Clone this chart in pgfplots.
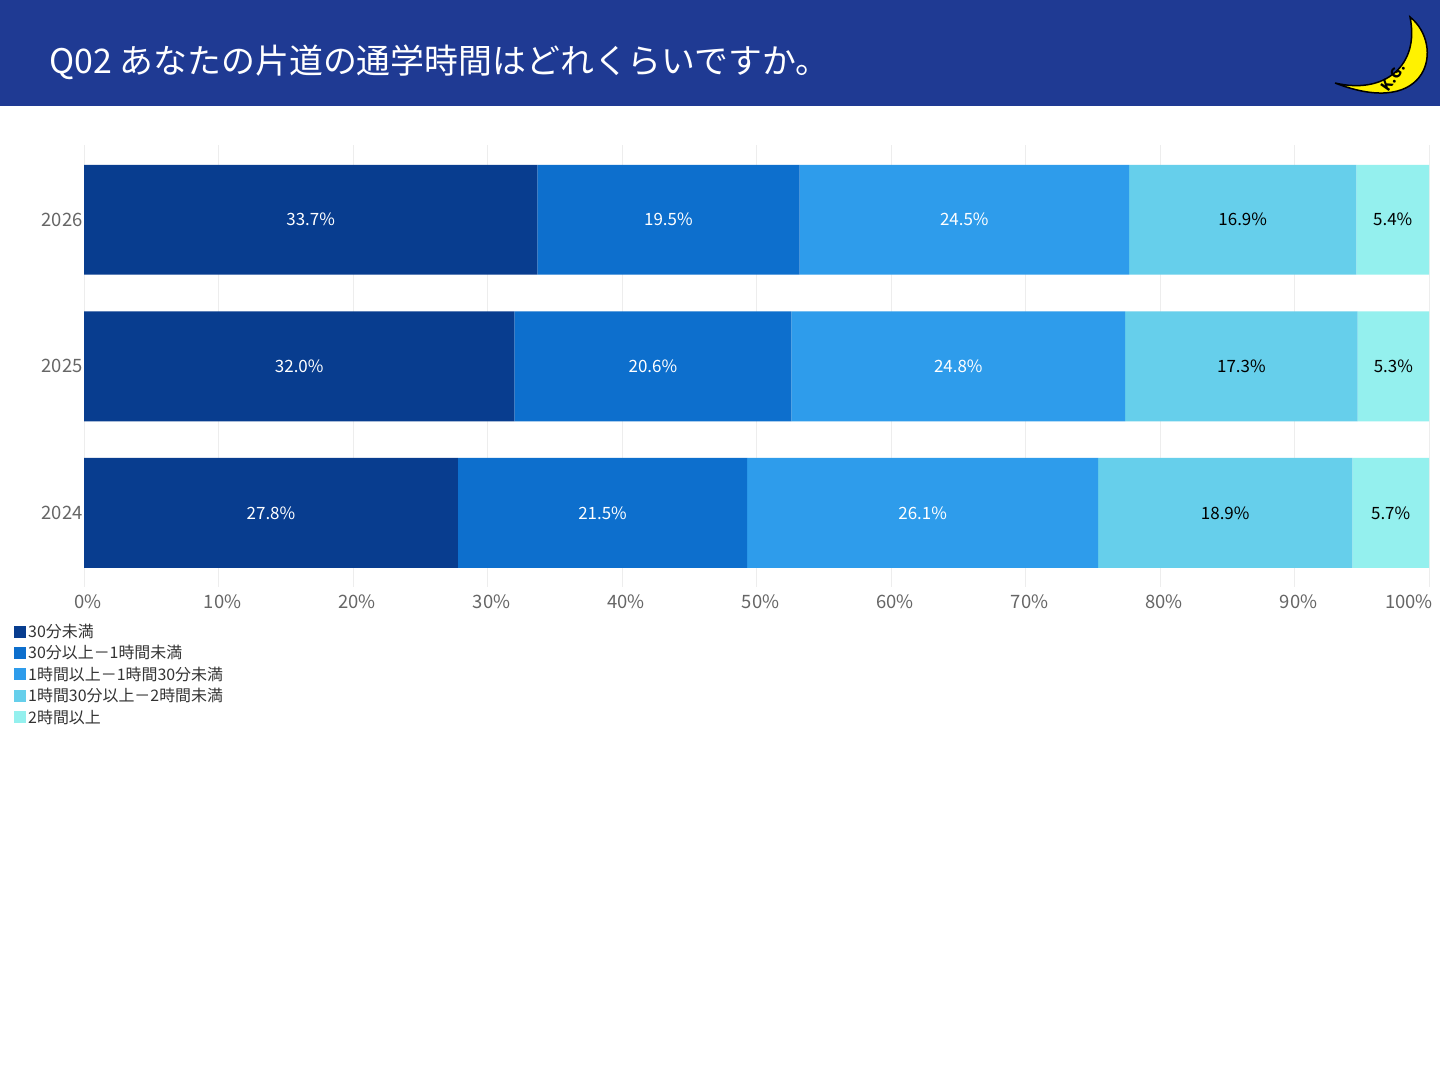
\documentclass[border=0pt]{standalone}
\usepackage{pgfplots}
\pgfplotsset{compat=1.18}
\usepackage{fontspec}
\setmainfont{Noto Sans CJK JP}
\definecolor{c1}{HTML}{083D8F}
\definecolor{c2}{HTML}{0D6FCD}
\definecolor{c3}{HTML}{2E9CEB}
\definecolor{c4}{HTML}{66CFEB}
\definecolor{c5}{HTML}{94F0EE}
\definecolor{hdr}{HTML}{1F3A93}
\begin{document}
\begin{tikzpicture}
\path[use as bounding box] (0,0) rectangle (1440bp,1080bp);
\fill[white] (0,0) rectangle (1440bp,1080bp);
\fill[hdr] (0,974bp) rectangle (1440bp,1080bp);
\node[anchor=west,text=white,font=\fontsize{34}{40}\selectfont] at (46bp,1018bp) {Q02 あなたの片道の通学時間はどれくらいですか。};
% logo
\begin{scope}[shift={(1385bp,1005bp)},x=1bp,y=1bp]
\fill[yellow,draw=black,line width=1.5bp] (25,58) .. controls (60,30) and (45,-45) .. (-50,-8) .. controls (0,-20) and (35,10) .. (25,58) -- cycle;
\node[rotate=55,font=\bfseries\fontsize{14}{14}\selectfont] at (8,-2) {K.G.};
\end{scope}
\begin{axis}[at={(84bp,493bp)},anchor=south west,scale only axis,width=1345bp,height=442bp,
 xbar stacked,bar width=0.75,xmin=0,xmax=100,ymin=-0.505,ymax=2.51,
 ytick={0,1,2},yticklabels={2024,2025,2026},
 xtick={0,10,...,90},xticklabel={\pgfmathprintnumber{\tick}\%},
 extra x ticks={100},extra x tick labels={100\%},
 extra x tick style={xticklabel style={xshift=-24bp},grid style={color=black!7}},
 /pgf/number format/assume math mode=true,
 axis line style={draw=none},tick style={draw=none},
 xmajorgrids,grid style={color=black!7},
 ticklabel style={text=black!60,font=\fontsize{18.5}{20}\selectfont},
 xticklabel style={yshift=-4bp,xshift=4bp},
 yticklabel style={xshift=2bp},
 legend style={at={(-0.052,-0.079)},anchor=north west,draw=none,fill=none,font=\fontsize{16}{18}\selectfont,text=black!80,row sep=2.5bp,inner sep=0pt},
 legend cell align=left,
 legend image code/.code={\fill[#1] (0,-6bp) rectangle (12bp,6bp);},
 legend style={nodes={xshift=4bp}},
]
\addplot[fill=c1,draw=none] coordinates {(27.8,0) (32.0,1) (33.7,2)};
\addplot[fill=c2,draw=none] coordinates {(21.5,0) (20.6,1) (19.5,2)};
\addplot[fill=c3,draw=none] coordinates {(26.1,0) (24.8,1) (24.5,2)};
\addplot[fill=c4,draw=none] coordinates {(18.9,0) (17.3,1) (16.9,2)};
\addplot[fill=c5,draw=none] coordinates {(5.7,0) (5.3,1) (5.4,2)};
\legend{30分未満,30分以上－1時間未満,1時間以上－1時間30分未満,1時間30分以上－2時間未満,2時間以上}
\end{axis}
\begin{axis}[at={(84bp,493bp)},anchor=south west,scale only axis,width=1345bp,height=442bp,
 xmin=0,xmax=100,ymin=-0.505,ymax=2.51,axis lines=none,
 nodes near coords,point meta=explicit symbolic,
 every node near coord/.append style={anchor=center,font=\fontsize{17}{20}\selectfont}]
\addplot[only marks,mark=none,nodes near coords style={text=white}] table[meta=l] {
x y l
13.9 0 27.8\%
38.55 0 21.5\%
62.35 0 26.1\%
16.0 1 32.0\%
42.3 1 20.6\%
65.0 1 24.8\%
16.85 2 33.7\%
43.45 2 19.5\%
65.45 2 24.5\%
};
\addplot[only marks,mark=none,nodes near coords style={text=black}] table[meta=l] {
x y l
84.85 0 18.9\%
97.15 0 5.7\%
86.05 1 17.3\%
97.35 1 5.3\%
86.15 2 16.9\%
97.3 2 5.4\%
};
\end{axis}
\end{tikzpicture}
\end{document}
